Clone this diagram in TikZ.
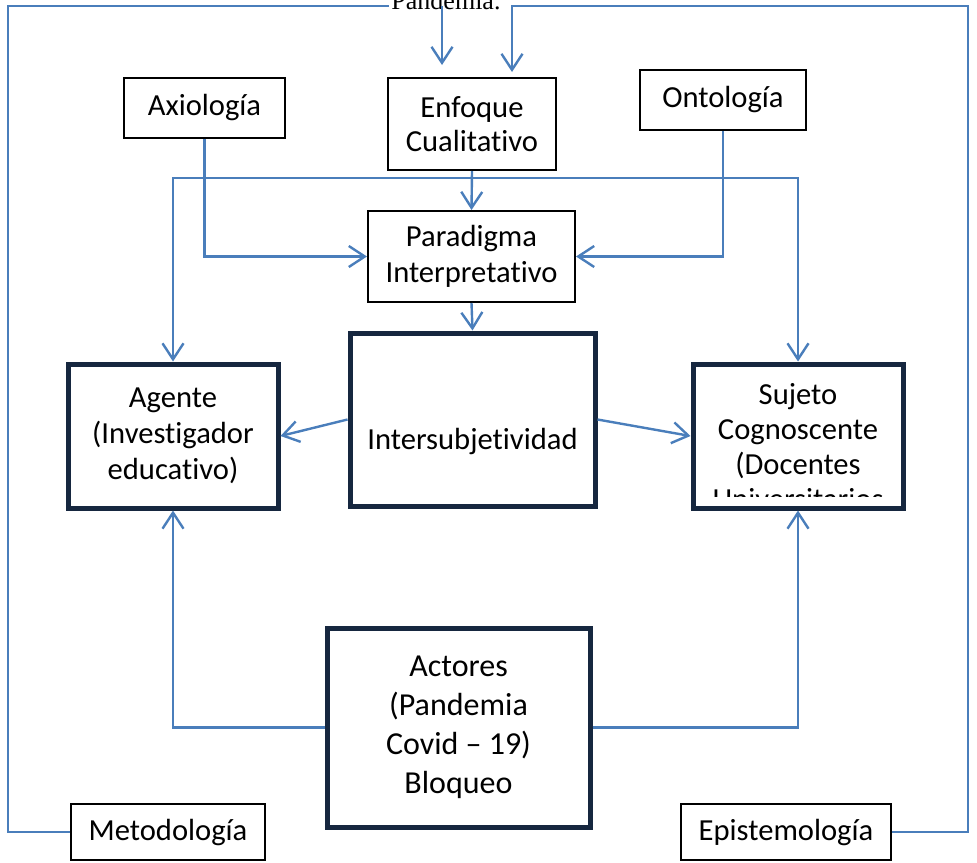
\documentclass[tikz,border=0pt]{standalone}
\usepackage{fontspec}
\setmainfont{Carlito}[Ligatures=NoCommon]
\newfontfamily\timesfont{Liberation Serif}
\usetikzlibrary{arrows.meta}

\definecolor{linkblue}{HTML}{4A7EBB}
\definecolor{boxnavy}{HTML}{16273F}

\tikzset{
  thinbox/.style={draw=black, line width=1pt, fill=white, align=center,
    inner sep=0pt, font=\fontsize{15.3}{18}\selectfont},
  thickbox/.style={draw=boxnavy, line width=2.5pt, fill=white, align=center,
    inner sep=0pt, font=\fontsize{15.3}{18}\selectfont},
  boxtext/.style={align=center, inner sep=0pt, font=\fontsize{15.3}{17.5}\selectfont},
  linkline/.style={draw=linkblue, line width=1.2pt},
  link/.style={linkline, -{Straight Barb[length=8pt,width=10.5pt,line width=1.2pt]}}
}

\begin{document}
\begin{tikzpicture}[x=0.5pt, y=-0.5pt]
    \useasboundingbox (0,0) rectangle (977,862);

    \node[thinbox, minimum width=80.5pt, minimum height=30pt] (axio) at (204.5,108) {Axiología};
    \node[thinbox, minimum width=84pt, minimum height=46pt, font=\fontsize{15.3}{17}\selectfont] (enf) at (472,124) {Enfoque\\Cualitativo};
    \node[thinbox, minimum width=83pt, minimum height=30pt] (onto) at (723,100) {Ontología};
    \node[thinbox, minimum width=103.5pt, minimum height=45.5pt] (para) at (471.5,256.5) {Paradigma\\Interpretativo};

    \node[thickbox, minimum width=105pt, minimum height=72pt] (agente) at (173,436) {Agente\\(Investigador\\educativo)};
    \node[thickbox, minimum width=122.5pt, minimum height=86.5pt] (inter) at (472.5,419.5) {};
    \node[boxtext] (intertxt) at (472.5,441) {Intersubjetividad};
    \node[thickbox, minimum width=105pt, minimum height=72pt] (sujeto) at (798,436) {};
    \begin{scope}
        \clip (700,372) rectangle (896,496);
        \node[boxtext] (sujetotxt) at (798,447) {Sujeto\\Cognoscente\\(Docentes\\Universitarios};
    \end{scope}
    \node[thickbox, minimum width=131.5pt, minimum height=99.5pt, font=\fontsize{16}{19.5}\selectfont] (actores) at (458.5,727.5) {Actores\\(Pandemia\\Covid -- 19)\\Bloqueo};

    \node[thinbox, minimum width=97pt, minimum height=28pt] (metodo) at (168,832) {Metodología};
    \node[thinbox, minimum width=105pt, minimum height=28pt] (episte) at (786,832) {Epistemología};

    \coordinate (tl) at (8,6);
    \coordinate (tc) at (442,6);
    \coordinate (enfin) at (442,65);
    \coordinate (tr) at (968,6);
    \coordinate (enfin2) at (512,72);
    \coordinate (hub) at (472,178);

    \draw[linkline] (metodo.west) -| (tl) -- (tc);
    \node[fill=white, inner sep=1pt, anchor=base, font=\timesfont\fontsize{13}{15}\selectfont] (pand) at (446,10) {Pandemia.};
    \draw[link] (tc) -- (enfin);
    \draw[link] (episte.east) -| (tr) -| (enfin2);

    \draw[link] (axio.south) |- (para.west);
    \draw[link] (onto.south) |- (para.east);
    \draw[link] (enf.south) -- (para.north);
    \draw[link] (hub) -| (agente.north);
    \draw[link] (hub) -| (sujeto.north);
    \draw[link] (para.south) -- (inter.north);

    \draw[link] (inter.west) -- (agente.east);
    \draw[link] (inter.east) -- (sujeto.west);

    \draw[link] (actores.west) -| (agente.south);
    \draw[link] (actores.east) -| (sujeto.south);
\end{tikzpicture}
\end{document}
